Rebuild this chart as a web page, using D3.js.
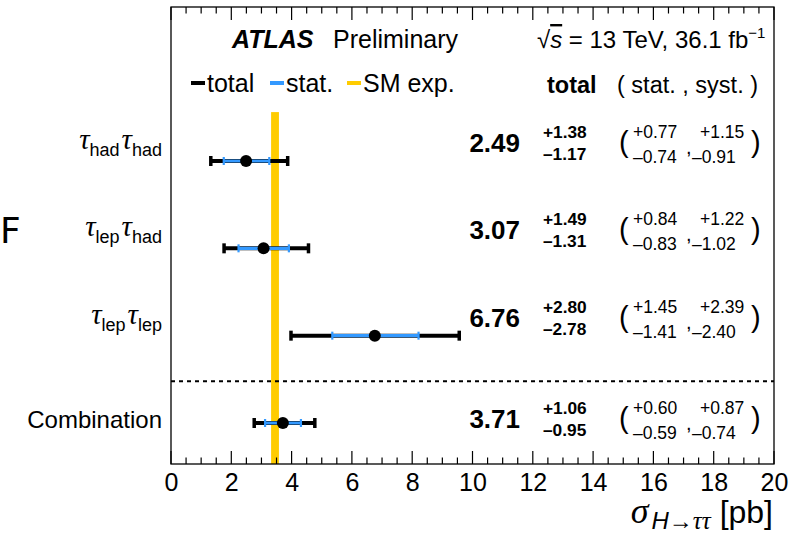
<!DOCTYPE html>
<html>
<head>
<meta charset="utf-8">
<script src="https://cdn.jsdelivr.net/npm/d3@7"></script>
<style>
  body { margin: 0; background: #fff; }
  svg { font-family: "Liberation Sans", Arial, sans-serif; }
</style>
</head>
<body>
<div id="chart"></div>
<script>
// channel labels: [first tau subscript, second tau subscript], last row is plain text
const channels = [["had", "had"], ["lep", "had"], ["lep", "lep"], "Combination"];
const central = [2.49, 3.07, 6.76, 3.71];
const totUp = [1.38, 1.49, 2.80, 1.06];
const totDn = [1.17, 1.31, 2.78, 0.95];
const statUp = [0.77, 0.84, 1.45, 0.60];
const statDn = [0.74, 0.83, 1.41, 0.59];
const systUp = [1.15, 1.22, 2.39, 0.87];
const systDn = [0.91, 1.02, 2.40, 0.74];
const smExp = 3.45;
const smUnc = 0.13;
const xTicks = [0, 2, 4, 6, 8, 10, 12, 14, 16, 18, 20];

const W = 794, H = 536;
const fL = 171, fR = 774, fT = 7, fB = 464;

const svg = d3.select("#chart").append("svg")
  .attr("width", W).attr("height", H);

const x = d3.scaleLinear().domain([0, 20]).range([fL, fR]);
const y = d3.scaleLinear().domain([0, 3]).range([161, 423]);

// SM band
svg.append("rect")
  .attr("x", x(smExp - smUnc))
  .attr("width", x(smExp + smUnc) - x(smExp - smUnc))
  .attr("y", y(-0.56))
  .attr("height", fB - y(-0.56))
  .attr("fill", "#ffcc00");

// separator
svg.append("line")
  .attr("x1", fL).attr("x2", fR)
  .attr("y1", (y(2) + y(3)) / 2 + 2).attr("y2", (y(2) + y(3)) / 2 + 2)
  .attr("stroke", "#000").attr("stroke-width", 2)
  .attr("stroke-dasharray", "4,4");

// frame
svg.append("rect")
  .attr("x", fL).attr("y", fT)
  .attr("width", fR - fL).attr("height", fB - fT)
  .attr("fill", "none").attr("stroke", "#000").attr("stroke-width", 1.3);

// axes
const minor = d3.range(0, 20.01, 0.5);
const bottomAxis = d3.axisBottom(x).tickValues(xTicks).tickSize(0).tickPadding(9);
const gB = svg.append("g").attr("transform", `translate(0,${fB})`).call(bottomAxis);
gB.select(".domain").remove();
gB.selectAll("text").attr("font-size", 25).attr("font-family", "Liberation Sans, Arial, sans-serif");

svg.append("g").selectAll("line").data(minor).join("line")
  .attr("x1", d => x(d)).attr("x2", d => x(d))
  .attr("y1", fB)
  .attr("y2", d => fB - (d % 2 === 0 ? 13 : 6.5))
  .attr("stroke", "#000").attr("stroke-width", 1.2);
svg.append("g").selectAll("line").data(minor).join("line")
  .attr("x1", d => x(d)).attr("x2", d => x(d))
  .attr("y1", fT)
  .attr("y2", d => fT + (d % 2 === 0 ? 13 : 6.5))
  .attr("stroke", "#000").attr("stroke-width", 1.2);

// error bars
const idx = d3.range(central.length);
const bars = svg.append("g");
idx.forEach(i => {
  const cy = y(i);
  const t0 = x(central[i] - totDn[i]), t1 = x(central[i] + totUp[i]);
  const s0 = x(central[i] - statDn[i]), s1 = x(central[i] + statUp[i]);
  bars.append("line").attr("x1", t0).attr("x2", t1).attr("y1", cy).attr("y2", cy)
    .attr("stroke", "#000").attr("stroke-width", 4);
  [t0, t1].forEach(v => bars.append("line").attr("x1", v).attr("x2", v)
    .attr("y1", cy - 5).attr("y2", cy + 5).attr("stroke", "#000").attr("stroke-width", 3.5));
  bars.append("line").attr("x1", s0).attr("x2", s1).attr("y1", cy).attr("y2", cy)
    .attr("stroke", "#3399ff").attr("stroke-width", 3.2);
  [s0, s1].forEach(v => bars.append("line").attr("x1", v).attr("x2", v)
    .attr("y1", cy - 4).attr("y2", cy + 4).attr("stroke", "#3399ff").attr("stroke-width", 2.2));
  bars.append("circle").attr("cx", x(central[i])).attr("cy", cy).attr("r", 6).attr("fill", "#000");
});

// row labels
const labels = svg.append("g");
channels.forEach((c, i) => {
  if (typeof c === "string") {
    labels.append("text").attr("x", 162).attr("y", y(i) + 5)
      .attr("text-anchor", "end").attr("font-size", 24).text(c);
  } else {
    const t = labels.append("text").attr("x", 162).attr("y", y(i) - 12)
      .attr("text-anchor", "end");
    c.forEach((sub, k) => {
      t.append("tspan").attr("font-family", "Liberation Serif, serif")
        .attr("font-style", "italic").attr("font-size", 29).attr("dy", k === 0 ? 0 : -7)
        .attr("dx", k === 0 ? 0 : 2).text("τ");
      t.append("tspan").attr("font-size", 18).attr("dy", 7).text(sub);
    });
  }
});

// number columns
const nums = svg.append("g");
const fmt = d3.format(".2f");
idx.forEach(i => {
  const by = i < 3 ? y(i) - 9 : y(i) + 5;
  nums.append("text").attr("x", 520).attr("y", by).attr("text-anchor", "end")
    .attr("font-size", 26).attr("font-weight", "bold").text(fmt(central[i]));
  nums.append("text").attr("x", 543).attr("y", by - 14)
    .attr("font-size", 17.3).attr("font-weight", "bold").text("+" + fmt(totUp[i]));
  nums.append("text").attr("x", 543).attr("y", by + 8)
    .attr("font-size", 17.3).attr("font-weight", "bold").text("\u2013" + fmt(totDn[i]));
  nums.append("text").attr("x", 619).attr("y", by).attr("font-size", 29).text("(");
  nums.append("text").attr("x", 633).attr("y", by - 14).attr("font-size", 17.5).text("+" + fmt(statUp[i]));
  nums.append("text").attr("x", 633).attr("y", by + 11).attr("font-size", 17.5).text("\u2013" + fmt(statDn[i]));
  nums.append("text").attr("x", 686).attr("y", by + 2).attr("font-size", 20).text(",");
  nums.append("text").attr("x", 700).attr("y", by - 14).attr("font-size", 17.5).text("+" + fmt(systUp[i]));
  nums.append("text").attr("x", 692).attr("y", by + 11).attr("font-size", 17.5).text("\u2013" + fmt(systDn[i]));
  nums.append("text").attr("x", 751).attr("y", by).attr("font-size", 29).text(")");
});

// header
const head = svg.append("g");
head.append("text").attr("x", 232).attr("y", 48).attr("font-size", 25)
  .attr("font-weight", "bold").attr("font-style", "italic").text("ATLAS");
head.append("text").attr("x", 333).attr("y", 48).attr("font-size", 25).text("Preliminary");
const lumi = head.append("text").attr("x", 537).attr("y", 48).attr("font-size", 24);
lumi.append("tspan").text("\u221A");
lumi.append("tspan").attr("font-style", "italic").attr("text-decoration", "overline").text("s");
lumi.append("tspan").text(" = 13 TeV, 36.1 fb");
lumi.append("tspan").attr("font-size", 15).attr("dy", -10).text("\u22121");

// legend
const legend = [["total", "#000"], ["stat.", "#3399ff"], ["SM exp.", "#ffcc00"]];
const legX = [191, 270, 347];
legend.forEach((d, i) => {
  head.append("line").attr("x1", legX[i]).attr("x2", legX[i] + 14)
    .attr("y1", 83).attr("y2", 83).attr("stroke", d[1]).attr("stroke-width", 4);
  head.append("text").attr("x", legX[i] + 16).attr("y", 92).attr("font-size", 25).text(d[0]);
});
head.append("text").attr("x", 547).attr("y", 93).attr("font-size", 23.5)
  .attr("font-weight", "bold").text("total");
head.append("text").attr("x", 617).attr("y", 93).attr("font-size", 23.5)
  .attr("xml:space", "preserve").text("( stat. , syst. )");

// axis title
const title = svg.append("text").attr("x", 773).attr("y", 523).attr("text-anchor", "end");
title.append("tspan").attr("font-family", "Liberation Serif, serif").attr("font-style", "italic")
  .attr("font-size", 36).text("σ");
title.append("tspan").attr("font-style", "italic").attr("font-size", 24).attr("dy", 6).attr("dx", 3).text("H\u2192");
title.append("tspan").attr("font-family", "Liberation Serif, serif").attr("font-style", "italic")
  .attr("font-size", 25).text("ττ");
title.append("tspan").attr("font-size", 32).attr("dy", -6).text(" [pb]");

// stray glyph at left edge
svg.append("text").attr("x", 0).attr("y", 243).attr("font-size", 36)
  .attr("font-family", "DejaVu Sans, sans-serif").text("F");
</script>
</body>
</html>
